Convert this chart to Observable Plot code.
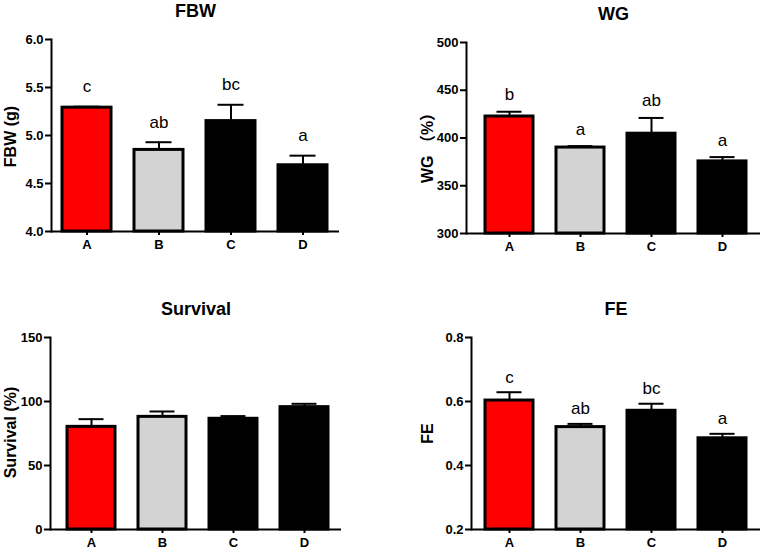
<!DOCTYPE html>
<html>
<head>
<meta charset="utf-8">
<script src="https://cdn.jsdelivr.net/npm/d3@7"></script>
<script src="https://cdn.jsdelivr.net/npm/@observablehq/plot@0.6"></script>
<style>
  html, body { margin: 0; padding: 0; background: #fff; }
  #root { position: relative; width: 763px; height: 550px; background: #fff; }
  .panel { position: absolute; }
</style>
</head>
<body>
<div id="root"></div>
<script>
const groups = ["A", "B", "C", "D"];
const colors = ["#ff0000", "#d3d3d3", "#000000", "#000000"];

const fbwMean = [5.29, 4.85, 5.15, 4.69];
const fbwErr = [0.01, 0.08, 0.17, 0.10];
const fbwLetters = ["c", "ab", "bc", "a"];

const wgMean = [422.5, 390, 404.5, 375.5];
const wgErr = [5, 1.5, 16.5, 4.5];
const wgLetters = ["b", "a", "ab", "a"];

const survMean = [80.2, 88, 86.5, 95.6];
const survErr = [6, 4.2, 2.1, 2.6];

const feMean = [0.603, 0.520, 0.571, 0.485];
const feErr = [0.026, 0.010, 0.022, 0.014];
const feLetters = ["c", "ab", "bc", "a"];

const panels = [
  {title: "FBW", ylabel: "FBW (g)", mean: fbwMean, err: fbwErr, letters: fbwLetters,
   domain: [4, 6], ticks: [4, 4.5, 5, 5.5, 6], fmt: d3.format(".1f"),
   left: 0, top: 0, width: 380, height: 260, mt: 39, mb: 29, ml: 51, mr: 41,
   xr: [62, 327], labelDx: -41, labelDy: 1, letterDy: -20},
  {title: "WG", ylabel: "WG （%）", mean: wgMean, err: wgErr, letters: wgLetters,
   domain: [300, 500], ticks: [300, 350, 400, 450, 500], fmt: d3.format("d"),
   left: 380, top: 0, width: 383, height: 260, mt: 42, mb: 27, ml: 86, mr: 3,
   xr: [104, 368], labelDx: -39, labelDy: 6, letterDy: -17},
  {title: "Survival", ylabel: "Survival (%)", mean: survMean, err: survErr, letters: null,
   domain: [0, 150], ticks: [0, 50, 100, 150], fmt: d3.format("d"),
   left: 0, top: 280, width: 380, height: 270, mt: 57, mb: 21, ml: 50, mr: 39,
   xr: [66, 330], labelDx: -40, labelDy: -1, letterDy: -17},
  {title: "FE", ylabel: "FE", mean: feMean, err: feErr, letters: feLetters,
   domain: [0.2, 0.8], ticks: [0.2, 0.4, 0.6, 0.8], fmt: d3.format(".1f"),
   left: 380, top: 280, width: 383, height: 270, mt: 57, mb: 21, ml: 91, mr: 3,
   xr: [104, 368], labelDx: -44, labelDy: 0, letterDy: -15}
];

const root = document.getElementById("root");

for (const p of panels) {
  const data = groups.map((g, i) => ({
    g, mean: p.mean[i], err: p.err[i], top: p.mean[i] + p.err[i],
    color: colors[i], letter: p.letters ? p.letters[i] : ""
  }));
  const marks = [
    Plot.barY(data, {x: "g", y1: p.domain[0], y2: "mean", fill: "color", stroke: "#000", strokeWidth: 3}),
    Plot.ruleX(data, {x: "g", y1: "mean", y2: "top", stroke: "#000", strokeWidth: 2}),
    Plot.tickY(data, {x: "g", y: "top", stroke: "#000", strokeWidth: 2, insetLeft: 11.5, insetRight: 11.5}),
    Plot.ruleY([p.domain[0]], {stroke: "#000", strokeWidth: 2}),
    Plot.axisY({ticks: p.ticks, tickFormat: p.fmt, tickSize: 6, tickPadding: 2, strokeWidth: 2,
      label: null, fontSize: 13, fontWeight: "bold"}),
    Plot.frame({anchor: "left", stroke: "#000", strokeWidth: 2}),
    Plot.axisX({tickSize: 4, tickPadding: 4, strokeWidth: 2, label: null, fontSize: 13, fontWeight: "bold"}),
    Plot.text([p.ylabel], {frameAnchor: "left", rotate: -90, dx: p.labelDx, dy: p.labelDy,
      textAnchor: "middle", lineAnchor: "middle", fontSize: 16, fontWeight: "bold", fill: "#000"}),
    Plot.text([p.title], {frameAnchor: "top", lineAnchor: "middle", dy: -28, fontSize: 18, fontWeight: "bold", fill: "#000"})
  ];
  if (p.letters) {
    marks.push(Plot.text(data, {x: "g", y: "top", text: "letter", dy: p.letterDy, fontSize: 17,
      fontWeight: "normal", fill: "#000"}));
  }
  const chart = Plot.plot({
    width: p.width, height: p.height,
    marginTop: p.mt, marginBottom: p.mb, marginLeft: p.ml, marginRight: p.mr,
    style: {fontFamily: "'Liberation Sans', Arial, 'Noto Sans CJK SC', sans-serif", fontSize: "13px", fontWeight: "bold", color: "#000", background: "transparent"},
    x: {domain: groups, range: p.xr, paddingInner: 0.32, paddingOuter: 0, axis: null},
    y: {domain: p.domain, axis: null},
    marks
  });
  const wrap = document.createElement("div");
  wrap.className = "panel";
  wrap.style.left = p.left + "px";
  wrap.style.top = p.top + "px";
  wrap.appendChild(chart);
  root.appendChild(wrap);
}
</script>
</body>
</html>
